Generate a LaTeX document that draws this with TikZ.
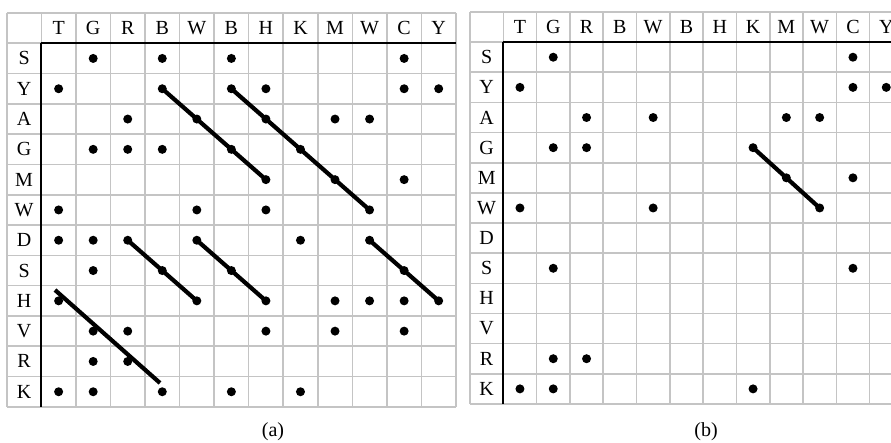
\documentclass[tikz,border=0pt]{standalone}
\usepackage{fontspec}
\setmainfont{Liberation Serif}
\definecolor{gridgray}{HTML}{C4C4C4}
\tikzset{
  gridline/.style={draw=gridgray, line width=1.6pt},
  rule/.style={draw=black, line width=2.2pt},
  lab/.style={inner sep=0pt, font=\fontsize{20}{24}\selectfont},
  captext/.style={inner sep=0pt, font=\fontsize{20}{24}\selectfont},
  dotnode/.style={circle, fill=black, inner sep=0pt, minimum size=9pt},
  diag/.style={draw=black, line width=4.2pt, line cap=round}
}
\newcommand\drawgrid[5]{%
  \foreach \k in {0,...,13}{%
    \draw[gridline] ({#2+\k*#4},#3) -- ({#2+\k*#4},{#3+13*#5});
    \draw[gridline] (#2,{#3+\k*#5}) -- ({#2+13*#4},{#3+\k*#5});
  }
  \draw[rule] ({#2+#4},{#3+#5}) -- ({#2+13*#4},{#3+#5});
  \draw[rule] ({#2+#4},{#3+#5}) -- ({#2+#4},{#3+13*#5});
  \foreach \t [count=\i] in {T,G,R,B,W,B,H,K,M,W,C,Y}
    \node[lab] (#1-h\i) at ({#2+(\i+0.5)*#4},{#3+0.5*#5}) {\t};
  \foreach \t [count=\i] in {S,Y,A,G,M,W,D,S,H,V,R,K}
    \node[lab] (#1-r\i) at ({#2+0.5*#4},{#3+(\i+0.5)*#5}) {\t};
}
\newcommand\putdots[6]{%
  \foreach \r/\c in {#6}
    \node[dotnode] (#1-\r-\c) at ({#2+(\c+0.5)*#4},{#3+(\r+0.5)*#5}) {};
}
\begin{document}
\begin{tikzpicture}[x=1pt,y=-1pt]
\useasboundingbox (0,0) rectangle (891,443);
% ---------- grid (a)
\drawgrid{a}{6.8}{13}{34.55}{30.3}
\putdots{a}{6.8}{13}{34.55}{30.3}{%
  1/2,1/4,1/6,1/11,
  2/1,2/4,2/6,2/7,2/11,2/12,
  3/3,3/5,3/7,3/9,3/10,
  4/2,4/3,4/4,4/6,4/8,
  5/7,5/9,5/11,
  6/1,6/5,6/7,6/10,
  7/1,7/2,7/3,7/5,7/8,7/10,
  8/2,8/4,8/6,8/11,
  9/1,9/5,9/7,9/9,9/10,9/11,9/12,
  10/2,10/3,10/7,10/9,10/11,
  11/2,11/3,
  12/1,12/2,12/4,12/6,12/8}
\draw[diag] (a-2-4.center) -- (a-5-7.center);
\draw[diag] (a-2-6.center) -- (a-6-10.center);
\draw[diag] (a-7-3.center) -- (a-9-5.center);
\draw[diag] (a-7-5.center) -- (a-9-7.center);
\draw[diag] (a-7-10.center) -- (a-9-12.center);
\coordinate (a-l6s) at (55,290);
\coordinate (a-l6e) at (160,383);
\draw[draw=black, line width=4.2pt] (a-l6s) -- (a-l6e);
\node[captext] (capa) at (273,432) {(a)};
% ---------- grid (b)
\drawgrid{b}{470}{12}{33.3}{30.15}
\putdots{b}{470}{12}{33.3}{30.15}{%
  1/2,1/11,
  2/1,2/11,2/12,
  3/3,3/5,3/9,3/10,
  4/2,4/3,4/8,
  5/9,5/11,
  6/1,6/5,6/10,
  8/2,8/11,
  11/2,11/3,
  12/1,12/2,12/8}
\draw[diag] (b-4-8.center) -- (b-6-10.center);
\node[captext] (capb) at (706,432) {(b)};
\end{tikzpicture}
\end{document}
